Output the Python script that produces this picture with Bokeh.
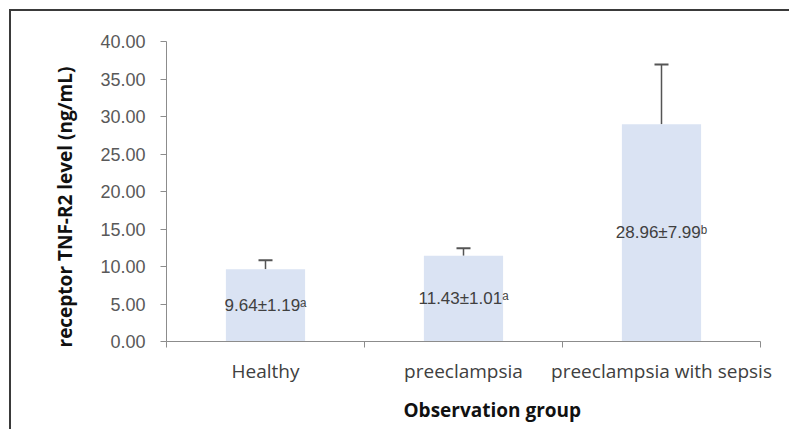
from bokeh.plotting import figure
from bokeh.models import (ColumnDataSource, FixedTicker, Whisker, TeeHead,
                          LabelSet, Range1d, Title)
from bokeh.core.properties import value
from bokeh.embed import file_html
from bokeh.resources import INLINE

categories = ["Healthy", "preeclampsia", "preeclampsia with sepsis"]
means = [9.64, 11.43, 28.96]
sds = [1.19, 1.01, 7.99]
bar_labels = ["9.64\u00b11.19\u1d43", "11.43\u00b11.01\u1d43", "28.96\u00b17.99\u1d47"]
y_ticks = [0, 5, 10, 15, 20, 25, 30, 35, 40]

xs = [i + 0.5 for i in range(len(categories))]
bounds = [i for i in range(len(categories) + 1)]
src = ColumnDataSource(dict(
    x=xs, top=means, upper=[m + s for m, s in zip(means, sds)],
    mid=[m / 2 for m in means], lab=bar_labels))

W, H = 780, 420
p = figure(width=W, height=H, output_backend="svg", toolbar_location=None,
           x_range=Range1d(0, 3), y_range=Range1d(0, 40),
           min_border_left=155, min_border_right=31, min_border_top=30,
           min_border_bottom=90)
p.styles = {"border-left": "2px solid #3a3a3a", "border-top": "2px solid #3a3a3a",
            "margin-left": "9px", "margin-top": "9px"}
p.outline_line_color = None
p.grid.visible = False
p.background_fill_color = "white"
p.border_fill_color = "white"

p.vbar(x="x", top="top", bottom=0, width=0.4, source=src,
       fill_color="#dae3f3", line_color=None)

wh = Whisker(source=src, base="x", lower="top", upper="upper",
             line_color="#555555", line_width=1.5, lower_head=None,
             upper_head=TeeHead(size=14, line_color="#555555", line_width=2))
p.add_layout(wh)

p.add_layout(LabelSet(x="x", y="mid", text="lab", source=src,
                      text_align="center", text_baseline="middle",
                      text_font=value("Liberation Sans"), text_font_size="17px",
                      text_color="#404040"))

# y axis
ya = p.yaxis[0]
ya.ticker = FixedTicker(ticks=y_ticks)
ya.major_label_overrides = {t: f"{t:.2f}" for t in y_ticks}
ya.axis_line_color = "#8c8c8c"
ya.major_tick_line_color = "#8c8c8c"
ya.major_tick_in = 0
ya.major_tick_out = 6
ya.minor_tick_line_color = None
ya.major_label_standoff = 15
ya.major_label_text_font = "Liberation Sans"
ya.major_label_text_font_size = "18px"
ya.major_label_text_color = "#595959"

# x axis: labels at category centres, tick marks at category boundaries
xa = p.xaxis[0]
xa.ticker = FixedTicker(ticks=xs, minor_ticks=bounds)
xa.major_label_overrides = {x: c for x, c in zip(xs, categories)}
xa.axis_line_color = "#8c8c8c"
xa.major_tick_line_color = None
xa.major_tick_in = 0
xa.major_tick_out = 0
xa.minor_tick_line_color = "#8c8c8c"
xa.minor_tick_in = 0
xa.minor_tick_out = 6
xa.major_label_standoff = 10
xa.major_label_text_font = "Open Sans"
xa.major_label_text_font_size = "19px"
xa.major_label_text_color = "#404040"

# axis titles
p.add_layout(Title(text="receptor TNF-R2 level (ng/mL)", align="left",
                   offset=-6, standoff=40, text_font="Open Sans",
                   text_font_style="bold", text_font_size="19px",
                   text_color="#111111"), "left")
p.add_layout(Title(text="Observation group", align="left", offset=237,
                   standoff=17, text_font="Open Sans", text_font_style="bold",
                   text_font_size="19px", text_color="#111111"), "below")

open("out.html", "w").write(file_html(p, INLINE))
